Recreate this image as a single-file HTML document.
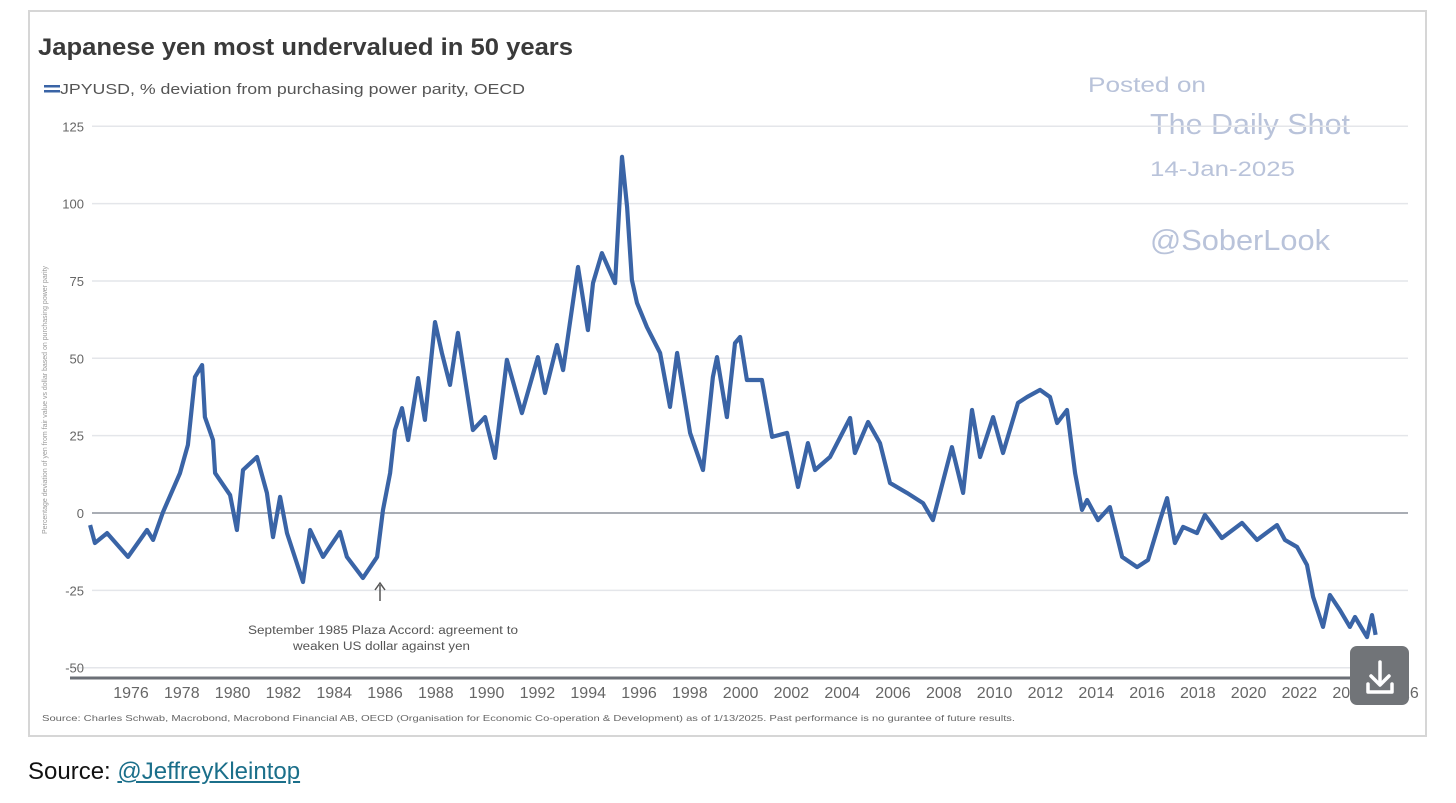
<!DOCTYPE html>
<html><head><meta charset="utf-8"><style>
body{margin:0;background:#fff;width:1456px;height:803px;overflow:hidden;font-family:"Liberation Sans",sans-serif;}
#frame{position:absolute;left:28px;top:10px;width:1399px;height:727px;border:2px solid #d6d6d6;box-sizing:border-box;}
#src{position:absolute;left:28px;top:758px;font-size:24px;color:#111;}
#src a{color:#1b6f8a;text-decoration:underline;}
</style></head><body>
<div id="frame"></div>
<svg width="1456" height="803" style="position:absolute;left:0;top:0">
<text x="38" y="55" font-size="24" font-weight="bold" fill="#3a3a3a" textLength="535" lengthAdjust="spacingAndGlyphs">Japanese yen most undervalued in 50 years</text>
<g><rect x="44" y="85" width="16" height="2.5" fill="#3a64a6"/><rect x="44" y="90" width="16" height="2.5" fill="#3a64a6"/>
<text x="60" y="94" font-size="15" fill="#555" textLength="465" lengthAdjust="spacingAndGlyphs">JPYUSD, % deviation from purchasing power parity, OECD</text></g>
<g fill="#b9c3da">
<text x="1088" y="92" font-size="21" textLength="118" lengthAdjust="spacingAndGlyphs">Posted on</text>
<text x="1150" y="134" font-size="29" textLength="200" lengthAdjust="spacingAndGlyphs">The Daily Shot</text>
<text x="1150" y="176" font-size="21" textLength="145" lengthAdjust="spacingAndGlyphs">14-Jan-2025</text>
<text x="1150" y="250" font-size="29" textLength="180" lengthAdjust="spacingAndGlyphs">@SoberLook</text></g>
<g id="grid"></g><g id="yt"></g><g id="xt"></g>
<text transform="translate(47,400) rotate(-90)" text-anchor="middle" font-size="7" fill="#999">Percentage deviation of yen from fair value vs dollar based on purchasing power parity</text>
<path id="line" fill="none" stroke="#3a64a6" stroke-width="4.2" stroke-linejoin="round"/>
<g><line x1="380" y1="601" x2="380" y2="585" stroke="#555" stroke-width="1.5"/><path d="M375,590 L380,583 L385,590" fill="none" stroke="#555" stroke-width="1.5"/>
<text x="248" y="634" font-size="11.5" fill="#555" textLength="270" lengthAdjust="spacingAndGlyphs">September 1985 Plaza Accord: agreement to</text>
<text x="293" y="650" font-size="11.5" fill="#555" textLength="177" lengthAdjust="spacingAndGlyphs">weaken US dollar against yen</text></g>
<text x="42" y="721" font-size="8.5" fill="#666" textLength="973" lengthAdjust="spacingAndGlyphs">Source: Charles Schwab, Macrobond, Macrobond Financial AB, OECD (Organisation for Economic Co-operation &amp; Development) as of 1/13/2025.   Past performance is no gurantee of future results.</text>
<g><rect x="1350" y="646" width="59" height="59" rx="7" fill="#717478"/>
<path d="M1380,662 V684 M1371,676 L1380,685 L1389,676 M1368,684 V692 H1392 V684" fill="none" stroke="#fff" stroke-width="3.5" stroke-linecap="round" stroke-linejoin="round"/></g>
</svg>
<div id="src">Source: <a>@JeffreyKleintop</a></div>
<script>
const yTicks=[125,100,75,50,25,0,-25,-50];
const xTicks=[1976,1978,1980,1982,1984,1986,1988,1990,1992,1994,1996,1998,2000,2002,2004,2006,2008,2010,2012,2014,2016,2018,2020,2022,2024,2026];
const years=[1974.39,1974.58,1975.06,1975.88,1976.63,1976.87,1977.26,1977.93,1978.24,1978.52,1978.80,1978.91,1979.23,1979.31,1979.90,1980.17,1980.41,1980.96,1981.35,1981.59,1981.87,1982.14,1982.77,1983.05,1983.56,1984.23,1984.50,1985.13,1985.69,1985.92,1986.20,1986.39,1986.67,1986.91,1987.10,1987.30,1987.57,1987.97,1988.24,1988.56,1988.87,1989.46,1989.94,1990.33,1990.80,1991.39,1992.02,1992.30,1992.77,1993.01,1993.60,1993.99,1994.19,1994.54,1995.06,1995.33,1995.53,1995.72,1995.92,1996.31,1996.83,1997.22,1997.50,1998.01,1998.52,1998.91,1999.07,1999.46,1999.78,1999.98,2000.25,2000.84,2001.24,2001.83,2002.26,2002.65,2002.93,2003.52,2004.31,2004.50,2005.02,2005.49,2005.88,2006.55,2007.18,2007.57,2008.32,2008.76,2009.11,2009.43,2009.94,2010.33,2010.92,2011.28,2011.79,2012.18,2012.46,2012.85,2013.17,2013.44,2013.64,2014.07,2014.54,2015.02,2015.61,2016.04,2016.51,2016.79,2017.10,2017.42,2017.97,2018.28,2018.95,2019.74,2020.33,2021.12,2021.43,2021.91,2022.30,2022.54,2022.93,2023.20,2023.60,2023.99,2024.19,2024.66,2024.86,2025.00];
const values=[-3.9,-9.7,-6.5,-14.2,-5.5,-8.7,0.3,12.9,22.0,44.0,47.8,31.0,23.6,12.9,5.8,-5.5,13.9,18.1,6.5,-7.8,5.2,-6.5,-22.3,-5.5,-14.2,-6.1,-14.2,-21.0,-14.2,1.0,12.9,26.8,33.9,23.6,33.3,43.6,30.1,61.7,51.7,41.4,58.2,26.8,31.0,17.8,49.5,32.3,50.4,38.8,54.3,46.2,79.5,59.1,74.3,84.0,74.3,115.1,98.9,75.3,67.9,60.1,51.7,34.3,51.7,25.9,13.9,44.0,50.4,31.0,54.9,56.9,43.0,43.0,24.6,25.9,8.4,22.6,13.9,18.1,30.7,19.4,29.4,22.6,9.7,6.5,3.2,-2.3,21.3,6.5,33.3,18.1,31.0,19.4,35.6,37.5,39.8,37.5,29.1,33.3,12.9,1.0,4.2,-2.3,1.9,-14.2,-17.5,-15.2,-2.3,4.8,-9.7,-4.5,-6.5,-0.6,-8.1,-3.2,-8.7,-3.9,-8.7,-11.0,-16.8,-27.1,-36.8,-26.5,-31.4,-36.8,-33.6,-40.1,-33.0,-39.4];
const X=y=>131+(y-1976)*25.4, Y=v=>513-v*3.094;
const NS="http://www.w3.org/2000/svg";
const grid=document.getElementById('grid'),yt=document.getElementById('yt'),xt=document.getElementById('xt');
yTicks.forEach(t=>{
 const l=document.createElementNS(NS,'line');
 l.setAttribute('x1',t===-50?70:92);l.setAttribute('x2',1408);l.setAttribute('y1',Y(t));l.setAttribute('y2',Y(t));
 l.setAttribute('stroke',t===0?'#a9adb4':'#e4e6ea');l.setAttribute('stroke-width',t===0?2:1.5);
 
 
 grid.appendChild(l);
 const tx=document.createElementNS(NS,'text');
 tx.setAttribute('x',84);tx.setAttribute('y',Y(t)+5);tx.setAttribute('text-anchor','end');
 tx.setAttribute('font-size','13');tx.setAttribute('fill','#666');tx.textContent=t;
 
 
 yt.appendChild(tx);
});
const ax=document.createElementNS(NS,'line');
ax.setAttribute('x1',70);ax.setAttribute('x2',1408);ax.setAttribute('y1',678);ax.setAttribute('y2',678);
ax.setAttribute('stroke','#6b6f76');ax.setAttribute('stroke-width',3);


grid.appendChild(ax);
xTicks.forEach(t=>{
 const tx=document.createElementNS(NS,'text');
 tx.setAttribute('x',X(t));tx.setAttribute('y',698);tx.setAttribute('text-anchor','middle');
 tx.setAttribute('font-size','16');tx.setAttribute('fill','#666');tx.textContent=t;
 
 
 xt.appendChild(tx);
});
document.getElementById('line').setAttribute('d',years.map((y,i)=>(i?'L':'M')+X(y).toFixed(1)+','+Y(values[i]).toFixed(1)).join(' '));
</script>
</body></html>
